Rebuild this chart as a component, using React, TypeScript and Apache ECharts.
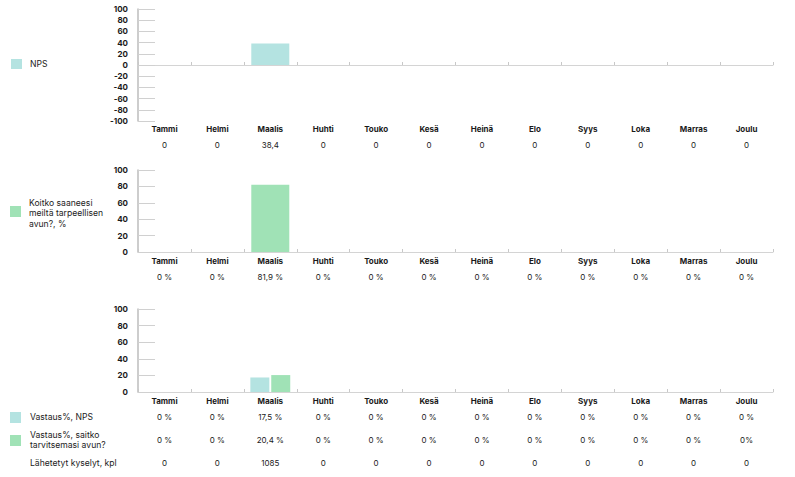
import React, { useEffect, useRef } from "react";
import * as echarts from "echarts";

const months = ["Tammi", "Helmi", "Maalis", "Huhti", "Touko", "Kesä", "Heinä", "Elo", "Syys", "Loka", "Marras", "Joulu"];
const npsValues = [0, 0, 38.4, 0, 0, 0, 0, 0, 0, 0, 0, 0];
const npsLabels = ["0", "0", "38,4", "0", "0", "0", "0", "0", "0", "0", "0", "0"];
const helpValues = [0, 0, 81.9, 0, 0, 0, 0, 0, 0, 0, 0, 0];
const helpLabels = ["0 %", "0 %", "81,9 %", "0 %", "0 %", "0 %", "0 %", "0 %", "0 %", "0 %", "0 %", "0 %"];
const respNpsValues = [0, 0, 17.5, 0, 0, 0, 0, 0, 0, 0, 0, 0];
const respNpsLabels = ["0 %", "0 %", "17,5 %", "0 %", "0 %", "0 %", "0 %", "0 %", "0 %", "0 %", "0 %", "0 %"];
const respHelpValues = [0, 0, 20.4, 0, 0, 0, 0, 0, 0, 0, 0, 0];
const respHelpLabels = ["0 %", "0 %", "20,4 %", "0 %", "0 %", "0 %", "0 %", "0 %", "0 %", "0 %", "0 %", "0%"];
const sentLabels = ["0", "0", "1085", "0", "0", "0", "0", "0", "0", "0", "0", "0"];

const CYAN = "#b4e3e1";
const GREEN = "#a0e2b6";
const FONT = "Inter, 'Noto Sans', sans-serif";
const TEXT = "#1a1a1a";

export default function App() {
  const ref = useRef<HTMLDivElement>(null);
  useEffect(() => {
    const chart = echarts.init(ref.current!, null, { renderer: "svg" });
    const grids = [
      { left: 138, top: 9, width: 635, height: 112 },
      { left: 138, top: 170, width: 635, height: 82 },
      { left: 138, top: 309, width: 635, height: 83 },
    ];
    const mainX = (g: number) => ({
      type: "category",
      gridIndex: g,
      data: months,
      position: "bottom",
      axisLine: { show: true, onZero: true, lineStyle: { color: "#d4d4d4", width: 1 } },
      axisTick: { show: true, inside: true, length: 3, lineStyle: { color: "#c8c8c8" } },
      axisLabel: { show: false },
    });
    const labelX = (g: number, offset: number, margin: number, labels: string[], bold: boolean) => ({
      type: "category",
      gridIndex: g,
      data: months,
      position: "bottom",
      offset,
      axisLine: { show: false, onZero: false },
      axisTick: { show: false },
      axisLabel: {
        show: true,
        interval: 0,
        margin,
        fontFamily: FONT,
        fontSize: 8,
        fontWeight: bold ? "bold" : "normal",
        color: TEXT,
        formatter: (_v: string, i: number) => labels[i],
      },
    });
    const yAx = (g: number, min: number) => ({
      type: "value",
      gridIndex: g,
      min,
      max: 100,
      interval: 20,
      splitLine: { show: false },
      axisLine: { show: true, lineStyle: { color: "#bdbdbd", width: 1.5 } },
      axisTick: { show: true, inside: true, length: 17, lineStyle: { color: "#d0d0d0" } },
      axisLabel: { margin: 10, fontFamily: FONT, fontSize: 8, fontWeight: "bold", color: TEXT },
    });
    const legendText = (x: number, y: number, text: string, lh: number) => ({
      type: "text",
      x,
      y,
      style: {
        text,
        fontFamily: FONT,
        fontSize: 8.6,
        fill: "#222",
        verticalAlign: "middle",
        lineHeight: lh,
      },
    });
    chart.setOption({
      animation: false,
      grid: grids,
      xAxis: [
        mainX(0),
        labelX(0, 0, 3.5, months, true),
        labelX(0, 16, 3.5, npsLabels, false),
        mainX(1),
        labelX(1, 0, 4.5, months, true),
        labelX(1, 16, 4.5, helpLabels, false),
        mainX(2),
        labelX(2, 0, 4.5, months, true),
        labelX(2, 16, 4.5, respNpsLabels, false),
        labelX(2, 39, 4.5, respHelpLabels, false),
        labelX(2, 62, 4.5, sentLabels, false),
      ],
      yAxis: [yAx(0, -100), yAx(1, 0), yAx(2, 0)],
      series: [
        { type: "bar", name: "NPS", xAxisIndex: 0, yAxisIndex: 0, data: npsValues, barWidth: 38, itemStyle: { color: CYAN } },
        { type: "bar", name: "Koitko saaneesi meiltä tarpeellisen avun?, %", xAxisIndex: 3, yAxisIndex: 1, data: helpValues, barWidth: 38, itemStyle: { color: GREEN } },
        { type: "bar", name: "Vastaus%, NPS", xAxisIndex: 6, yAxisIndex: 2, data: respNpsValues, barWidth: 19, barGap: "10%", itemStyle: { color: CYAN } },
        { type: "bar", name: "Vastaus%, saitko tarvitsemasi avun?", xAxisIndex: 6, yAxisIndex: 2, data: respHelpValues, barWidth: 19, barGap: "10%", itemStyle: { color: GREEN } },
      ],
      graphic: [
        { type: "rect", shape: { x: 11, y: 59, width: 11, height: 10 }, style: { fill: CYAN } },
        legendText(30, 64, "NPS", 10.5),
        { type: "rect", shape: { x: 10, y: 206, width: 11, height: 11 }, style: { fill: GREEN } },
        legendText(29, 213, "Koitko saaneesi\nmeiltä tarpeellisen\navun?, %", 10.5),
        { type: "rect", shape: { x: 10, y: 412, width: 11, height: 11 }, style: { fill: CYAN } },
        legendText(30, 417, "Vastaus%, NPS", 10.5),
        { type: "rect", shape: { x: 10, y: 435, width: 11, height: 11 }, style: { fill: GREEN } },
        legendText(30, 440, "Vastaus%, saitko\ntarvitsemasi avun?", 10.5),
        legendText(30, 463, "Lähetetyt kyselyt, kpl", 10.5),
      ],
    });
    return () => chart.dispose();
  }, []);
  return <div ref={ref} style={{ width: 795, height: 477, position: "absolute", left: 0, top: 0 }} />;
}
